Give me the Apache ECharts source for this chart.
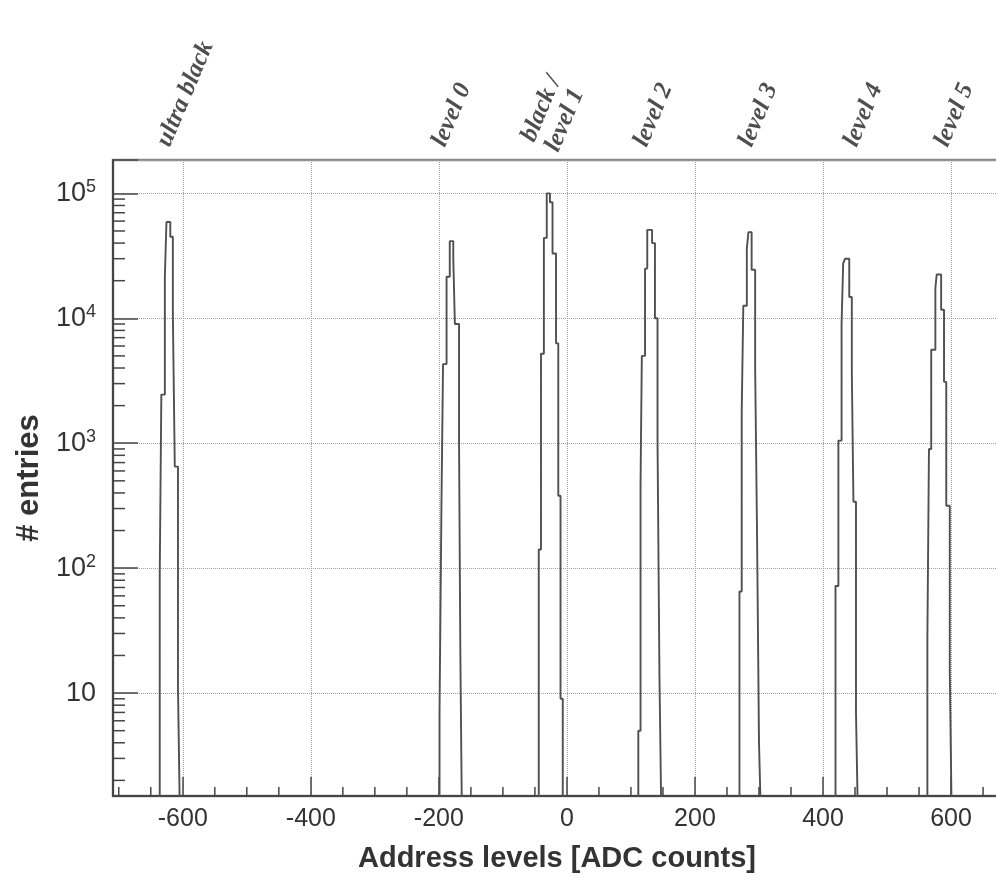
<!DOCTYPE html>
<html lang="en">
<head>
<meta charset="UTF-8" />
<title>Address levels</title>
<script src="https://cdn.jsdelivr.net/npm/echarts@6/dist/echarts.min.js"></script>
<style>
    html, body { margin: 0; padding: 0; background: #fff; }
    #chart { width: 996px; height: 882px; }
</style>
</head>
<body>
<div id="chart"></div>
<script>
// bin edges [ADC counts] and entries per bin
var ultraBlackEdges = [-636, -633.5, -628, -625.5, -619.5, -615.5, -612.5, -607.5, -604.5];
var ultraBlackCounts = [88, 2450, 21500, 59000, 45000, 10700, 650, 11];
var level0Edges = [-199, -196, -193.5, -188, -183, -177.5, -175, -168.5, -166.5, -164];
var level0Counts = [7, 316, 4300, 21500, 41500, 30000, 9000, 1000, 22];
var level1Edges = [-44, -40.5, -36, -31.5, -26.5, -22.5, -17, -13.5, -10, -6.5];
var level1Counts = [141, 5200, 44000, 100000, 85000, 33000, 6300, 380, 9];
var level2Edges = [111.5, 115, 117, 122, 125.5, 133, 137.5, 141.5, 144.5, 147.5];
var level2Counts = [5, 480, 5000, 25000, 51000, 40000, 10000, 1070, 14];
var level3Edges = [269.5, 273, 275.5, 281, 283.5, 288.5, 294, 297, 300, 303];
var level3Counts = [65, 1750, 12600, 36000, 49000, 24500, 4000, 180, 4];
var level4Edges = [419.5, 424, 429, 431.5, 434.5, 441, 445, 447.5, 451.5, 454.5];
var level4Counts = [72, 1050, 9100, 27500, 30000, 14800, 3700, 340, 7];
var level5Edges = [563, 565.5, 569, 575.5, 577.5, 584.5, 589, 592.5, 598, 601];
var level5Counts = [27, 900, 5600, 17400, 22400, 11700, 3100, 316, 15];

// annotations above the frame
var levelNames = ['ultra black', 'level 0', 'black /\nlevel 1', 'level 2', 'level 3', 'level 4', 'level 5'];
var levelX = [-630, -200, -42, 115, 279, 443, 585];

var xTickLabels = [-600, -400, -200, 0, 200, 400, 600];

var X_MIN = -709, X_MAX = 678;
var Y_MIN = 1.5, Y_MAX = 1.85e5;
var EMPTY = 1; // empty bins sit below the frame

// histogram outline as a step line
function stepPoints(edges, counts) {
    var pts = [[edges[0], EMPTY]];
    for (var i = 0; i < counts.length; i++) {
        pts.push([edges[i], counts[i]]);
    }
    pts.push([edges[edges.length - 1], EMPTY]);
    return pts;
}
var histData = [].concat(
    stepPoints(ultraBlackEdges, ultraBlackCounts),
    stepPoints(level0Edges, level0Counts),
    stepPoints(level1Edges, level1Counts),
    stepPoints(level2Edges, level2Counts),
    stepPoints(level3Edges, level3Counts),
    stepPoints(level4Edges, level4Counts),
    stepPoints(level5Edges, level5Counts)
);

// minor ticks
var xMinor = [];
for (var v = -700; v <= 650; v += 50) {
    if (v % 200 !== 0) xMinor.push([v, Y_MIN]);
}
var yMinor = [];
for (var k = 0; k <= 5; k++) {
    for (var m = 2; m <= 9; m++) {
        var val = m * Math.pow(10, k);
        if (val >= Y_MIN && val <= Y_MAX) yMinor.push([X_MIN, val]);
    }
}

var axisColor = '#454545';
var chart = echarts.init(document.getElementById('chart'));
var option = {
    backgroundColor: '#fff',
    animation: false,
    grid: {
        left: 113, width: 888, top: 160, bottom: 86,
        outerBoundsMode: 'none',
        show: true, borderColor: '#8a8a8a', borderWidth: 2.5
    },
    xAxis: {
        type: 'value',
        min: X_MIN, max: X_MAX, splitNumber: 7,
        axisLine: { onZero: false, lineStyle: { color: axisColor, width: 2 } },
        axisTick: { inside: true, length: 19, lineStyle: { color: axisColor, width: 1.5 } },
        axisLabel: {
            margin: 11, fontSize: 25, color: '#333', fontFamily: 'Liberation Sans',
            formatter: function (v) {
                return xTickLabels.indexOf(v) >= 0 ? String(v) : '';
            }
        },
        splitLine: { show: true, lineStyle: { type: 'dotted', color: '#a0a0a0', width: 1 } },
        name: 'Address levels [ADC counts]',
        nameLocation: 'middle', nameGap: 48,
        nameTextStyle: { fontSize: 29, fontWeight: 'bold', color: '#333', fontFamily: 'Liberation Sans' }
    },
    yAxis: {
        type: 'log', logBase: 10,
        min: Y_MIN, max: Y_MAX,
        axisLine: { show: true, onZero: false, lineStyle: { color: axisColor, width: 2 } },
        axisTick: { show: true, inside: true, length: 25, lineStyle: { color: axisColor, width: 1.5 } },
        axisLabel: {
            margin: 17, color: '#333', fontFamily: 'Liberation Sans',
            formatter: function (v) {
                var e = Math.log(v) / Math.LN10;
                var r = Math.round(e);
                if (Math.abs(e - r) > 1e-6) return '';
                if (r === 1) return '{b|10}';
                return '{b|10}{s|' + r + '}';
            },
            rich: {
                b: { fontSize: 27, color: '#333', fontFamily: 'Liberation Sans', lineHeight: 31 },
                s: { fontSize: 18, color: '#333', fontFamily: 'Liberation Sans', verticalAlign: 'top', lineHeight: 31 }
            }
        },
        splitLine: { show: true, lineStyle: { type: 'dotted', color: '#a0a0a0', width: 1 } },
        name: '# entries',
        nameLocation: 'middle', nameGap: 64, nameRotate: 90,
        nameTextStyle: { fontSize: 31, fontWeight: 'bold', color: '#333', fontFamily: 'Liberation Sans' }
    },
    series: [
        {
            name: 'entries',
            type: 'line',
            step: 'end',
            showSymbol: false,
            symbol: 'none',
            clip: true,
            data: histData,
            lineStyle: { color: '#505050', width: 1.9 },
            z: 4
        },
        {
            type: 'custom',
            silent: true,
            data: xMinor,
            renderItem: function (params, api) {
                var p = api.coord([api.value(0), api.value(1)]);
                return {
                    type: 'line',
                    shape: { x1: p[0], y1: p[1], x2: p[0], y2: p[1] - 9 },
                    style: { stroke: axisColor, lineWidth: 1.5 }
                };
            },
            z: 5
        },
        {
            type: 'custom',
            silent: true,
            data: yMinor,
            renderItem: function (params, api) {
                var p = api.coord([api.value(0), api.value(1)]);
                return {
                    type: 'line',
                    shape: { x1: p[0], y1: p[1], x2: p[0] + 12, y2: p[1] },
                    style: { stroke: axisColor, lineWidth: 1.5 }
                };
            },
            z: 5
        },
        {
            type: 'scatter',
            silent: true,
            clip: false,
            symbolSize: 1,
            itemStyle: { color: 'transparent' },
            data: levelX.map(function (x, i) {
                return { value: [x, Y_MAX], name: levelNames[i] };
            }),
            label: {
                show: true,
                position: 'top',
                distance: 14,
                formatter: '{b}',
                rotate: 67,
                align: 'left',
                verticalAlign: 'middle',
                fontFamily: 'Liberation Serif',
                fontStyle: 'italic',
                fontWeight: 'bold',
                fontSize: 25,
                lineHeight: 26,
                color: '#222'
            }
        }
    ]
};
chart.setOption(option);
</script>
</body>
</html>
